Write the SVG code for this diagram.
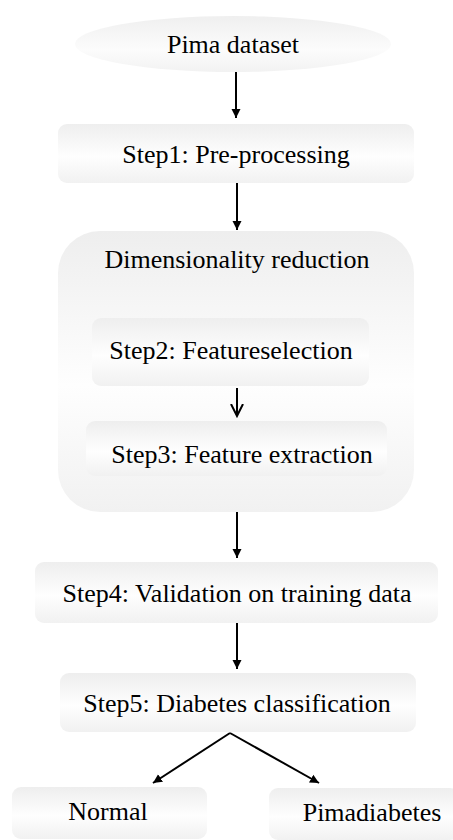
<svg xmlns="http://www.w3.org/2000/svg" width="453" height="840" viewBox="0 0 453 840">
<defs>
<linearGradient id="g" x1="0" y1="0" x2="0" y2="1">
<stop offset="0" stop-color="#eeeeee"/>
<stop offset="0.55" stop-color="#fefefe"/>
<stop offset="1" stop-color="#f1f1f1"/>
</linearGradient>
<linearGradient id="ge" x1="0" y1="0" x2="0" y2="1">
<stop offset="0" stop-color="#efefef"/>
<stop offset="0.6" stop-color="#fcfcfc"/>
<stop offset="1" stop-color="#f2f2f2"/>
</linearGradient>
<marker id="a" markerWidth="10" markerHeight="10" refX="9" refY="5" orient="auto" markerUnits="userSpaceOnUse">
<path d="M0,0.5 L9,5 L0,9.5 Z" fill="#000"/>
</marker>
<marker id="o" markerWidth="14" markerHeight="14" refX="12" refY="7" orient="auto" markerUnits="userSpaceOnUse">
<path d="M0,1 L12,7 L0,13" fill="none" stroke="#000" stroke-width="2"/>
</marker>
</defs>
<g id="pima">
<ellipse cx="233" cy="44" rx="158" ry="28" fill="url(#ge)"/>
<text x="233" y="53" font-family="Liberation Serif" font-size="26" text-anchor="middle">Pima dataset</text>
</g>
<g id="step1">
<rect x="58" y="124" width="356" height="59" rx="9" fill="url(#g)"/>
<text x="236" y="163" font-family="Liberation Serif" font-size="26" text-anchor="middle">Step1: Pre-processing</text>
</g>
<g id="dimred">
<rect x="58" y="231" width="356" height="281" rx="42" fill="url(#g)"/>
<text x="237" y="268" font-family="Liberation Serif" font-size="26" text-anchor="middle">Dimensionality reduction</text>
</g>
<g id="step2">
<rect x="92" y="318" width="277" height="68" rx="9" fill="url(#g)"/>
<text x="231" y="359" font-family="Liberation Serif" font-size="26" text-anchor="middle">Step2: Featureselection</text>
</g>
<g id="step3">
<rect x="86" y="421" width="301" height="55" rx="9" fill="url(#g)"/>
<text x="242" y="463" font-family="Liberation Serif" font-size="26" text-anchor="middle">Step3: Feature extraction</text>
</g>
<g id="step4">
<rect x="35" y="562" width="403" height="61" rx="9" fill="url(#g)"/>
<text x="237" y="602" font-family="Liberation Serif" font-size="26" text-anchor="middle">Step4: Validation on training data</text>
</g>
<g id="step5">
<rect x="60" y="673" width="356" height="59" rx="9" fill="url(#g)"/>
<text x="237" y="712" font-family="Liberation Serif" font-size="26" text-anchor="middle">Step5: Diabetes classification</text>
</g>
<g id="normal">
<rect x="12" y="787" width="195" height="52" rx="9" fill="url(#g)"/>
<text x="108" y="820" font-family="Liberation Serif" font-size="26" text-anchor="middle">Normal</text>
</g>
<g id="pimadiabetes">
<rect x="269" y="788" width="190" height="52" rx="9" fill="url(#g)"/>
<text x="372" y="821" font-family="Liberation Serif" font-size="26" text-anchor="middle">Pimadiabetes</text>
</g>
<g id="connectors" stroke="#000" stroke-width="2" fill="none">
<line x1="236" y1="72" x2="236" y2="118" marker-end="url(#a)"/>
<line x1="237" y1="183" x2="237" y2="230" marker-end="url(#a)"/>
<line x1="237" y1="388" x2="237" y2="416" marker-end="url(#o)"/>
<line x1="237" y1="512" x2="237" y2="558" marker-end="url(#a)"/>
<line x1="237" y1="623" x2="237" y2="669" marker-end="url(#a)"/>
<line x1="230" y1="733" x2="153" y2="783" marker-end="url(#a)"/>
<line x1="230" y1="733" x2="319" y2="783" marker-end="url(#a)"/>
</g>
</svg>
